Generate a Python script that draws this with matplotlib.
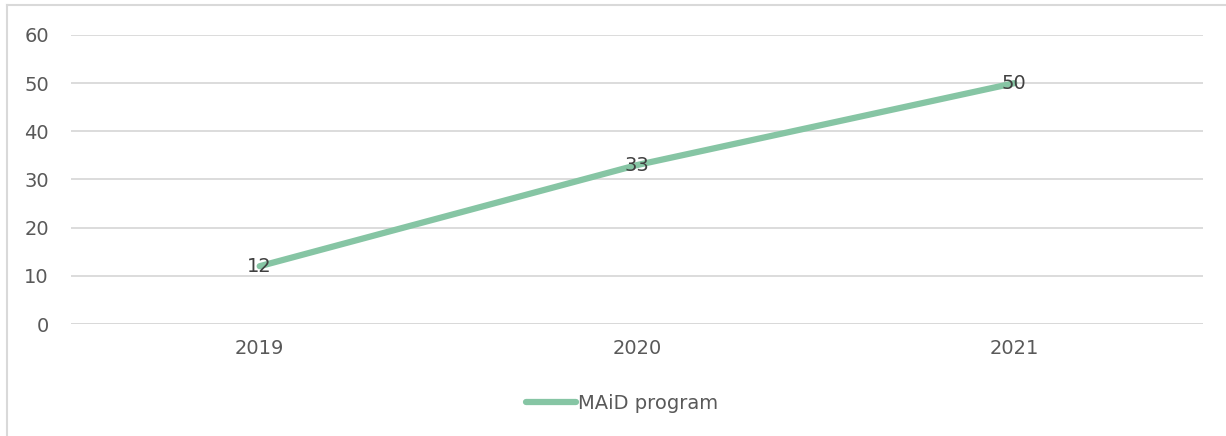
import matplotlib
matplotlib.use("Agg")
import matplotlib.pyplot as plt
from matplotlib.lines import Line2D

years = ["2019", "2020", "2021"]
values = [12, 33, 50]
series_name = "MAiD program"
yticks = [0, 10, 20, 30, 40, 50, 60]

W, H = 1226, 436
fig = plt.figure(figsize=(W / 100, H / 100), dpi=100)
plt.rcParams['font.family'] = ['DejaVu Sans']

# outer frame
fig.add_artist(Line2D([7 / W, 7 / W], [0, 1 - 5 / H], transform=fig.transFigure,
                      color="#d9d9d9", lw=1.5))
fig.add_artist(Line2D([7 / W, 1], [1 - 5 / H, 1 - 5 / H], transform=fig.transFigure,
                      color="#d9d9d9", lw=1.5))

left, right = 71 / W, 1203 / W
bottom, top = 1 - 324 / H, 1 - 35 / H
ax = fig.add_axes([left, bottom, right - left, top - bottom])

x = list(range(len(years)))
ax.plot(x, values, color="#86C5A4", lw=4.5, solid_capstyle="round", label=series_name, zorder=3)
for xi, v in zip(x, values):
    ax.text(xi, v, str(v), ha="center", va="center", fontsize=14, color="#404040", zorder=4)

ax.set_xlim(-0.5, len(years) - 0.5)
ax.set_ylim(0, 60)
ax.set_yticks(yticks)
ax.set_xticks(x)
ax.set_xticklabels(years)
ax.grid(axis="y", color="#d9d9d9", lw=1.3)
ax.set_axisbelow(True)
for s in ["top", "right", "left", "bottom"]:
    ax.spines[s].set_visible(False)
ax.tick_params(axis="both", length=0, labelsize=14, colors="#595959")
ax.tick_params(axis="y", pad=16)
ax.tick_params(axis="x", pad=11)
ax.axhline(0, color="#d9d9d9", lw=1.3)

leg = fig.legend(handles=[Line2D([0], [0], color="#86C5A4", lw=4.5, solid_capstyle="round")],
                 labels=[series_name], loc="center", bbox_to_anchor=(622 / W, 1 - 403 / H),
                 frameon=False, fontsize=14, handlelength=2.6, handletextpad=0.1)
for t in leg.get_texts():
    t.set_color("#595959")

fig.savefig("out.png", dpi=100, facecolor="white")
